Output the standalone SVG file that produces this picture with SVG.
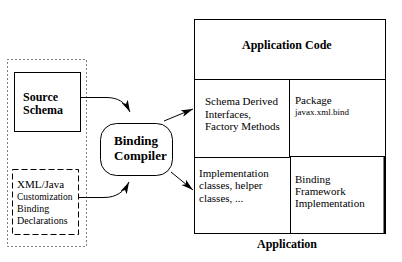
<svg xmlns="http://www.w3.org/2000/svg" width="402" height="262" viewBox="0 0 402 262">
  <style>
    .box { fill: none; stroke: #000; stroke-width: 1; }
    .t { font-family: "Liberation Serif", Tinos, "Times New Roman", "DejaVu Serif", serif; fill: #000; }
    .b { font-weight: bold; }
    .conn { fill: none; stroke: #000; stroke-width: 1; }
  </style>
  <defs>
    <marker id="arrow" markerUnits="userSpaceOnUse" markerWidth="14" markerHeight="10" refX="12" refY="4" orient="auto">
      <path d="M0,0.5 L12,4 L0,7.5 L3,4 Z" fill="#000"/>
    </marker>
  </defs>
  <rect width="402" height="262" fill="#fff"/>

  <!-- input group (dotted frame) -->
  <g id="inputs">
    <rect class="box" x="7.5" y="59.5" width="79" height="187" stroke-dasharray="1,3"/>
  </g>

  <g id="source-schema">
    <rect class="box" x="14.5" y="72.5" width="66" height="59"/>
    <text class="t b" x="23" y="101" font-size="12">Source</text>
    <text class="t b" x="23" y="114" font-size="12">Schema</text>
  </g>

  <g id="binding-declarations">
    <rect class="box" x="12.5" y="169.5" width="66" height="65" stroke-dasharray="6,3"/>
    <text class="t" x="17" y="188" font-size="11">XML/Java</text>
    <text class="t" x="17" y="200" font-size="9.5">Customization</text>
    <text class="t" x="17" y="212" font-size="10">Binding</text>
    <text class="t" x="17" y="224" font-size="10">Declarations</text>
  </g>

  <g id="binding-compiler">
    <rect class="box" x="100.5" y="123.5" width="72" height="52" rx="16" ry="16"/>
    <text class="t b" x="114" y="145" font-size="13">Binding</text>
    <text class="t b" x="114" y="160" font-size="13">Compiler</text>
  </g>

  <g id="application">
    <rect class="box" x="194.5" y="19.5" width="191" height="214"/>
    <line class="box" x1="194" y1="79.5" x2="386" y2="79.5"/>
    <text class="t b" x="242" y="49" font-size="12">Application Code</text>
    <text class="t b" x="287" y="248" font-size="12" text-anchor="middle">Application</text>
  </g>

  <g id="schema-derived">
    <polyline class="box" points="289.5,79.5 289.5,157.5 194.5,157.5"/>
    <text class="t" x="205" y="105" font-size="11">Schema Derived</text>
    <text class="t" x="205" y="118" font-size="11">Interfaces,</text>
    <text class="t" x="205" y="130" font-size="11">Factory Methods</text>
  </g>

  <g id="package">
    <text class="t" x="295" y="104" font-size="11">Package</text>
    <text class="t" x="295" y="115" font-size="9">javax.xml.bind</text>
  </g>

  <g id="implementation-classes">
    <text class="t" x="199" y="177" font-size="11">Implementation</text>
    <text class="t" x="199" y="189" font-size="11">classes, helper</text>
    <text class="t" x="199" y="202" font-size="11">classes, ...</text>
  </g>

  <g id="binding-framework">
    <rect class="box" x="290.5" y="156.5" width="94" height="77"/>
    <line x1="384" y1="156" x2="384" y2="234" stroke="#000" stroke-width="1"/>
    <text class="t" x="295" y="183" font-size="11">Binding</text>
    <text class="t" x="295" y="195" font-size="11">Framework</text>
    <text class="t" x="295" y="207" font-size="11">Implementation</text>
  </g>

  <g id="connectors">
    <path class="conn" d="M80,97.5 H106 C118,97.5 125,102 130,112" marker-end="url(#arrow)"/>
    <path class="conn" d="M78,197.5 H104 C116,197.5 124,192 129,182" marker-end="url(#arrow)"/>
    <path class="conn" d="M164,121 L193,109" marker-end="url(#arrow)"/>
    <path class="conn" d="M171,172 L193,190" marker-end="url(#arrow)"/>
  </g>
</svg>
